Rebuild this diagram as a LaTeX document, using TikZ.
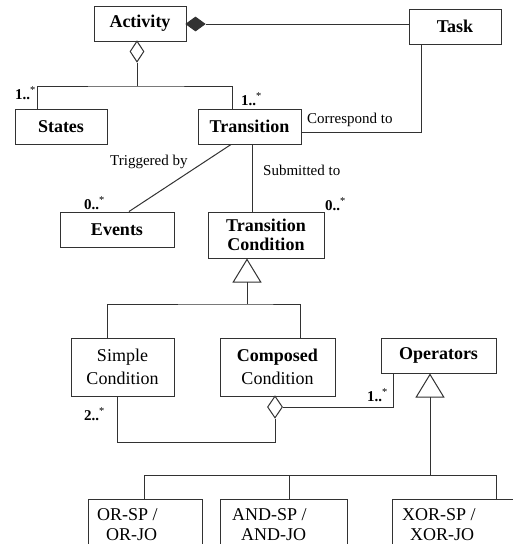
\documentclass[tikz,border=0pt]{standalone}
\usepackage{fontspec}
\setmainfont{Liberation Serif}
\usetikzlibrary{shapes.geometric,arrows.meta}
\definecolor{linec}{RGB}{50,50,50}
\begin{document}
\begin{tikzpicture}[x=1pt,y=-1pt,
  box/.style={draw=linec,line width=1pt,fill=white,inner sep=0pt,align=center,font=\fontsize{18}{19}\selectfont\bfseries},
  rbox/.style={box,font=\fontsize{18}{23}\selectfont},
  conn/.style={draw=linec,line width=1pt},
  dia/.style={shape=diamond,draw=linec,line width=1pt,fill=white,inner sep=0pt},
  tri/.style={conn,{Triangle[open,length=24pt,width=29pt]}-},
  mult/.style={anchor=base west,inner sep=0pt,font=\fontsize{15}{16}\selectfont\bfseries},
  role/.style={anchor=base west,inner sep=0pt,font=\fontsize{15}{16}\selectfont},
  optext/.style={anchor=base west,inner sep=0pt,align=left,font=\fontsize{18}{20}\selectfont}
]
\clip (0,0) rectangle (513,544);
\fill[white] (0,0) rectangle (513,544);

% classes
\node[box,minimum width=92pt,minimum height=35pt] (activity) at (140,23.5) {Activity};
\node[box,minimum width=92pt,minimum height=35pt] (task) at (455,26.5) {Task};
\node[box,minimum width=92pt,minimum height=35pt] (states) at (61,126.5) {States};
\node[box,minimum width=103pt,minimum height=35pt] (transition) at (249.5,126.5) {Transition};
\node[box,minimum width=114pt,minimum height=35pt] (events) at (117,229.5) {Events};
\node[box,minimum width=116pt,minimum height=46pt] (tc) at (266,235) {Transition\\Condition};
\node[rbox,minimum width=103pt,minimum height=58pt] (simple) at (122.5,367) {Simple\\Condition};
\node[rbox,minimum width=115pt,minimum height=58pt] (composed) at (277.5,367) {\bfseries Composed\\Condition};
\node[box,minimum width=115pt,minimum height=35pt] (operators) at (438.5,355.5) {Operators};
\node[box,minimum width=114pt,minimum height=70pt,anchor=north west] (orb) at (88,499) {};
\node[box,minimum width=127pt,minimum height=70pt,anchor=north west] (andb) at (220,499) {};
\node[box,minimum width=130pt,minimum height=70pt,anchor=north west] (xorb) at (392,499) {};
\node[optext] (ort) at (97,540) {OR-SP /\\\hspace{9pt}OR-JO};
\node[optext] (andt) at (232,540) {AND-SP /\\\hspace{9pt}AND-JO};
\node[optext] (xort) at (402,540) {XOR-SP /\\\hspace{8pt}XOR-JO};

% diamonds
\node[dia,fill=linec,minimum width=19pt,minimum height=14pt] (fdia) at (195.5,24) {};
\node[dia,minimum width=14pt,minimum height=21pt] (adia) at (137,51.5) {};
\node[dia,minimum width=15pt,minimum height=22pt] (cdia) at (275,407) {};

% Activity -- Task (composition)
\draw[conn] (fdia.east) -- (fdia.east -| task.west);
% Activity aggregation of States and Transition
\coordinate (aj) at (137,86);
\draw[conn] (adia.south) -- (aj);
\draw[conn] ([xshift=-24pt]states.north) |- (aj) -| ([xshift=-17.5pt]transition.north);
% Transition -- Task
\draw[conn] ([yshift=-5.5pt]transition.east) -| ([xshift=-34pt]task.south);
% Transition -- Events
\draw[conn] ([xshift=-18.5pt]transition.south) -- ([xshift=12pt]events.north);
% Transition -- Transition Condition
\draw[conn] ([xshift=2.5pt]transition.south) -- ([xshift=2.5pt]transition.south |- tc.north);
% generalisation of Transition Condition
\coordinate (gj) at (247,304);
\draw[tri] (gj |- tc.south) -- (gj);
\draw[conn] ([xshift=-15.5pt]simple.north) |- (gj) -| ([xshift=22.5pt]composed.north);
% Composed aggregation
\draw[conn] (cdia.east) -| ([xshift=-45.5pt]operators.south);
\coordinate (sj) at (117,442);
\draw[conn] (cdia.south) |- (sj) -- (sj |- simple.south);
% generalisation of Operators
\coordinate (oj) at (430,475);
\draw[tri] (oj |- operators.south) -- (oj);
\draw[conn] ([xshift=-1pt]orb.north) |- (oj);
\draw[conn] ([xshift=39pt]xorb.north) |- (oj);
\draw[conn] ([xshift=5.5pt]andb.north) -- ([xshift=5.5pt]andb.north |- oj);

% labels
\node[mult] (m1) at (15,99) {1..\textsuperscript{\mdseries *}};
\node[mult] (m2) at (241,105) {1..\textsuperscript{\mdseries *}};
\node[role] (r1) at (307,123) {Correspond to};
\node[role] (r2) at (110,165) {Triggered by};
\node[role] (r3) at (263,175) {Submitted to};
\node[mult] (m3) at (84,209) {0..\textsuperscript{\mdseries *}};
\node[mult] (m4) at (325,210) {0..\textsuperscript{\mdseries *}};
\node[mult] (m5) at (84,420) {2..\textsuperscript{\mdseries *}};
\node[mult] (m6) at (367,401) {1..\textsuperscript{\mdseries *}};
\end{tikzpicture}
\end{document}
